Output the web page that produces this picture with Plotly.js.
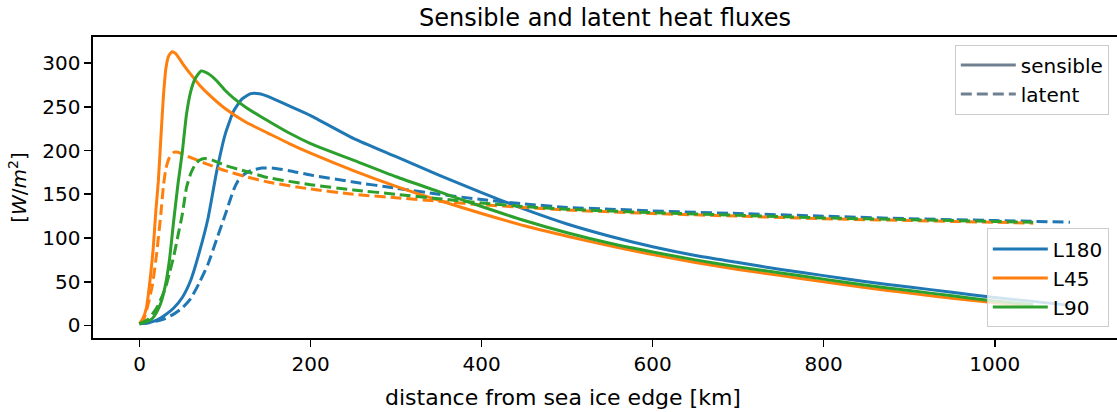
<!DOCTYPE html>
<html>
<head>
<meta charset="utf-8">
<script src="https://cdn.plot.ly/plotly-3.0.1.min.js"></script>
<style>
html, body { margin: 0; padding: 0; background: #fff; overflow: hidden; }
#chart { width: 1117px; height: 412px; }
</style>
</head>
<body>
<div id="chart"></div>
<script>
// ---- data ----
const seriesNames = ["L180", "L45", "L90"];
const seriesColors = ["#1f77b4", "#ff7f0e", "#2ca02c"];

// L180
const xSensL180 = [0, 10, 20, 30, 40, 50, 60, 70, 80, 90, 100, 110, 120, 130, 140, 150, 175, 200, 250, 300, 350, 400, 450, 500, 550, 600, 650, 700, 750, 800, 850, 900, 950, 1000, 1050, 1088];
const ySensL180 = [2, 3, 6, 12, 20, 32, 52, 84, 122, 175, 218, 245, 259, 265, 265, 262, 251, 240, 214, 193, 172, 152, 133, 116, 102, 90, 80, 72, 64, 57, 50, 44, 38, 32, 27, 23];
const xLatL180 = [0, 10, 20, 30, 40, 50, 60, 70, 80, 90, 100, 110, 115, 120, 130, 143, 155, 175, 200, 250, 300, 350, 400, 450, 500, 550, 600, 700, 800, 900, 1000, 1088];
const yLatL180 = [2, 3, 5, 8, 13, 20, 31, 49, 70, 98, 126, 155, 165, 171, 177, 180, 180, 177, 172, 164, 157, 150, 144, 139, 135, 133, 131, 128, 125, 122, 120, 118];

// L45
const xSensL45 = [0, 4, 8, 10, 13, 16, 19, 22, 25, 28, 31, 34, 38, 42, 46, 50, 60, 70, 80, 100, 125, 150, 175, 200, 250, 300, 350, 400, 450, 500, 550, 600, 650, 700, 750, 800, 850, 900, 950, 1000, 1045];
const ySensL45 = [2, 8, 20, 33, 58, 88, 130, 165, 215, 263, 295, 308, 313, 311, 306, 300, 287, 275, 265, 248, 232, 220, 208, 197, 177, 159, 143, 128, 114, 102, 91, 81, 72, 64, 57, 50, 43, 37, 31, 26, 22];
const xLatL45 = [0, 5, 10, 15, 20, 25, 28, 31, 35, 40, 45, 50, 60, 75, 100, 125, 150, 200, 250, 300, 350, 400, 450, 500, 600, 700, 800, 900, 1000, 1045];
const yLatL45 = [2, 7, 24, 46, 82, 128, 160, 180, 192, 198, 198, 196, 192, 186, 177, 170, 164, 156, 150, 146, 142, 138, 135, 132, 128, 125, 122, 120, 118, 117];

// L90
const xSensL90 = [0, 10, 15, 20, 25, 30, 35, 40, 45, 50, 55, 60, 65, 72, 80, 90, 100, 110, 125, 150, 175, 200, 250, 300, 350, 400, 450, 500, 550, 600, 650, 700, 750, 800, 850, 900, 950, 1000, 1045];
const ySensL90 = [2, 5, 8, 15, 26, 45, 75, 120, 162, 198, 242, 268, 282, 291, 288, 280, 269, 260, 249, 234, 220, 208, 189, 170, 153, 136, 120, 106, 94, 84, 75, 67, 60, 53, 46, 40, 34, 28, 24];
const xLatL90 = [0, 10, 20, 30, 35, 40, 45, 50, 55, 60, 65, 70, 76, 85, 100, 125, 150, 200, 250, 300, 350, 400, 450, 500, 600, 700, 800, 900, 1000, 1045];
const yLatL90 = [2, 7, 20, 42, 60, 79, 103, 127, 158, 174, 184, 189, 191, 189, 183, 176, 169, 161, 155, 150, 145, 140, 136, 133, 129, 126, 123, 121, 119, 118];

const legendKindNames = ["sensible", "latent"];
const legendKindColor = "#708090";
const xTickVals = [0, 200, 400, 600, 800, 1000];
const yTickVals = [0, 50, 100, 150, 200, 250, 300];
const xLabelText = "distance from sea ice edge [km]";

// ---- traces ----
const FONT = "DejaVu Sans, Liberation Sans, sans-serif";
const sensX = [xSensL180, xSensL45, xSensL90];
const sensY = [ySensL180, ySensL45, ySensL90];
const latX = [xLatL180, xLatL45, xLatL90];
const latY = [yLatL180, yLatL45, yLatL90];
const DASH = "11px,5px";

const traces = [];
for (let i = 0; i < seriesNames.length; i++) {
  traces.push({
    x: sensX[i], y: sensY[i], type: "scatter", mode: "lines",
    name: seriesNames[i], legend: "legend2", legendgroup: "g" + i, showlegend: true,
    line: { color: seriesColors[i], width: 3, shape: "spline", smoothing: 0.5 },
    hoverinfo: "skip"
  });
  traces.push({
    x: latX[i], y: latY[i], type: "scatter", mode: "lines",
    name: seriesNames[i] + " latent", showlegend: false,
    line: { color: seriesColors[i], width: 3, dash: DASH, shape: "spline", smoothing: 0.5 },
    hoverinfo: "skip"
  });
}
// style legend entries
traces.push({
  x: [null], y: [null], type: "scatter", mode: "lines", name: legendKindNames[0],
  legend: "legend", legendgroup: "k0", showlegend: true, line: { color: legendKindColor, width: 3 }
});
traces.push({
  x: [null], y: [null], type: "scatter", mode: "lines", name: legendKindNames[1],
  legend: "legend", legendgroup: "k1", showlegend: true, line: { color: legendKindColor, width: 3, dash: DASH }
});

const axisCommon = {
  showline: true, mirror: true, linecolor: "#000", linewidth: 1.6,
  ticks: "outside", ticklen: 7, tickwidth: 1.6, tickcolor: "#000",
  showgrid: false, zeroline: false,
  tickfont: { family: FONT, size: 20, color: "#000" }
};

const legendCommon = {
  bgcolor: "rgba(255,255,255,0.8)", bordercolor: "#cccccc", borderwidth: 1,
  font: { family: FONT, size: 20, color: "#000" },
  traceorder: "normal", tracegroupgap: 5, itemwidth: 55
};

const layout = {
  width: 1117, height: 412,
  margin: { l: 93, r: 0, t: 37, b: 74 },
  paper_bgcolor: "#fff", plot_bgcolor: "#fff",
  font: { family: FONT, color: "#000" },
  title: {
    text: "Sensible and latent heat fluxes",
    font: { family: FONT, size: 24, color: "#000" },
    x: 0.5, xref: "paper", xanchor: "center",
    y: 1 - 18 / 412, yref: "container", yanchor: "middle"
  },
  xaxis: Object.assign({}, axisCommon, {
    range: [-54.4, 1143], tickvals: xTickVals, ticktext: xTickVals.map(String)
  }),
  yaxis: Object.assign({}, axisCommon, {
    range: [-14.3, 329.8], tickvals: yTickVals, ticktext: yTickVals.map(String),
    title: { text: "[<i>W</i>/<i>m</i><sup>2</sup>]", font: { family: FONT, size: 20, color: "#000" }, standoff: 10 }
  }),
  annotations: [{
    text: xLabelText, xref: "paper", yref: "paper",
    x: (563 - 93) / 1024, y: -(397 - 338) / 301,
    xanchor: "center", yanchor: "middle", showarrow: false,
    font: { family: FONT, size: 22, color: "#000" }
  }],
  legend: Object.assign({}, legendCommon, {
    x: 0.992, xanchor: "right", y: 0.975, yanchor: "top"
  }),
  legend2: Object.assign({}, legendCommon, {
    x: 0.992, xanchor: "right", y: 0.035, yanchor: "bottom"
  }),
  showlegend: true
};

Plotly.newPlot("chart", traces, layout, { staticPlot: true, displayModeBar: false });
</script>
</body>
</html>
